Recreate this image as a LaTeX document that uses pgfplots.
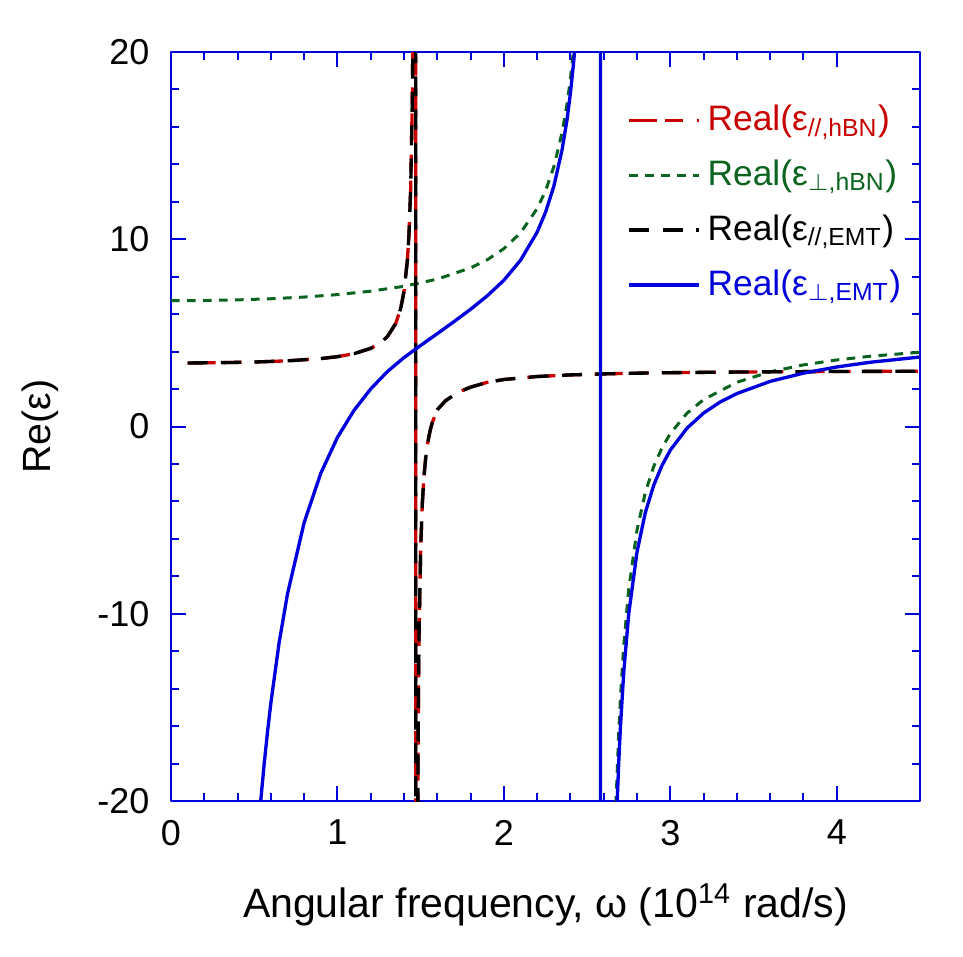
\documentclass[border=0pt]{standalone}
\usepackage{pgfplots}
\pgfplotsset{compat=1.18}
\usepackage{fontspec}
\setmainfont{Liberation Sans}
\definecolor{hbnred}{RGB}{200,0,0}
\definecolor{hbngreen}{RGB}{10,100,30}
\definecolor{emtblue}{RGB}{0,0,220}
\begin{document}%
\fontsize{10.5}{12.6}\selectfont%
\begin{tikzpicture}
\useasboundingbox (-51.3pt,-46.5pt) rectangle (237.6pt,240.3pt);
\begin{axis}[
  scale only axis, width=224.7pt, height=224.7pt,
  at={(0,0)}, anchor=south west,
  xmin=0, xmax=4.5, ymin=-20, ymax=20,
  xtick={0,1,2,3,4}, ytick={-20,-10,0,10,20},
  minor x tick num=4, minor y tick num=4,
  tick align=inside, xtick pos=both, ytick pos=both,
  xticklabel pos=bottom, yticklabel pos=left,
  major tick length=4.5pt, minor tick length=2.5pt,
  axis line style={draw=emtblue, line width=0.7pt},
  tick style={draw=emtblue, line width=0.6pt},
  /pgf/number format/assume math mode=true,
  tick label style={font=\fontsize{10.8}{13}\selectfont},
  xticklabel style={yshift=-2pt},
  yticklabel style={xshift=-2.8pt},
  xlabel={Angular frequency, ω (10\textsuperscript{14} rad/s)},
  ylabel={Re(ε)},
  xlabel style={at={(axis description cs:0.5,-0.139)}, anchor=center, font=\fontsize{12.3}{14}\selectfont},
  ylabel style={at={(axis description cs:-0.175,0.5)}, anchor=center, font=\fontsize{11.8}{14}\selectfont},
  unbounded coords=jump,
  legend cell align=left,
  legend style={draw=none, fill=none, at={(axis description cs:0.998,0.948)}, anchor=north east, row sep=3.2pt, font=\fontsize{10.6}{12.7}\selectfont},
  legend image code/.code={\draw[#1] (0pt,0pt) -- (21pt,0pt);},
  line join=round,
]
\addplot[color=hbnred, line width=1pt, dash pattern=on 8.4pt off 2.4pt on 5.4pt off 4pt] coordinates {
(0.1,3.393)(0.3,3.409)(0.5,3.443)(0.7,3.507)(0.9,3.626)(1.0,3.729)(1.1,3.890)(1.2,4.174)(1.25,4.414)(1.3,4.797)(1.35,5.501)(1.38,6.299)(1.4,7.213)(1.42,8.857)(1.43,10.296)(1.44,12.694)(1.45,17.491)(1.455,22.278)(1.47,40)(1.47,-40)(1.48,-25.69)(1.485,-16.10)(1.49,-11.296)(1.5,-6.498)(1.51,-4.100)(1.52,-2.661)(1.53,-1.702)(1.54,-1.017)(1.55,-0.503)(1.56,-0.103)(1.57,0.216)(1.6,0.90)(1.65,1.38)(1.7,1.68)(1.75,1.92)(1.8,2.10)(1.9,2.36)(2.0,2.51)(2.2,2.67)(2.4,2.755)(2.6,2.810)(2.8,2.848)(3.0,2.874)(3.3,2.901)(3.6,2.920)(4.0,2.938)(4.5,2.953)
};
\addlegendentry{\textcolor{hbnred}{Real(ε\textsubscript{//,hBN})}}
\addplot[color=hbngreen, line width=0.9pt, dash pattern=on 2.6pt off 2.2pt] coordinates {
(0,6.717)(0.2,6.728)(0.4,6.762)(0.6,6.823)(0.8,6.913)(1.0,7.044)(1.2,7.227)(1.4,7.488)(1.6,7.871)(1.8,8.469)(1.9,8.906)(2.0,9.498)(2.1,10.343)(2.2,11.639)(2.25,12.583)(2.3,13.868)(2.35,15.713)(2.38,17.263)(2.4,18.585)(2.42,20.238)(2.43,21.23)(2.58,nan)(2.66,-24.46)(2.675,-19.758)(2.69,-16.338)(2.7,-14.534)(2.72,-11.699)(2.75,-8.698)(2.8,-5.517)(2.85,-3.516)(2.9,-2.141)(2.95,-1.139)(3.0,-0.376)(3.1,0.708)(3.2,1.439)(3.4,2.363)(3.6,2.920)(3.8,3.291)(4.0,3.554)(4.2,3.751)(4.5,3.966)
};
\addlegendentry{\textcolor{hbngreen}{Real(ε\textsubscript{$\perp$,hBN})}}
\addplot[color=black, line width=1pt, dash pattern=on 6pt off 4pt] coordinates {
(0.1,3.393)(0.3,3.409)(0.5,3.443)(0.7,3.507)(0.9,3.626)(1.0,3.729)(1.1,3.890)(1.2,4.174)(1.25,4.414)(1.3,4.797)(1.35,5.501)(1.38,6.299)(1.4,7.213)(1.42,8.857)(1.43,10.296)(1.44,12.694)(1.45,17.491)(1.455,22.278)(1.47,40)(1.47,-40)(1.48,-25.69)(1.485,-16.10)(1.49,-11.296)(1.5,-6.498)(1.51,-4.100)(1.52,-2.661)(1.53,-1.702)(1.54,-1.017)(1.55,-0.503)(1.56,-0.103)(1.57,0.216)(1.6,0.90)(1.65,1.38)(1.7,1.68)(1.75,1.92)(1.8,2.10)(1.9,2.36)(2.0,2.51)(2.2,2.67)(2.4,2.755)(2.6,2.810)(2.8,2.848)(3.0,2.874)(3.3,2.901)(3.6,2.920)(4.0,2.938)(4.5,2.953)
};
\addlegendentry{Real(ε\textsubscript{//,EMT})}
\addplot[color=emtblue, line width=1pt, solid] coordinates {
(0.52,-22.02)(0.54,-19.90)(0.56,-18.0)(0.58,-16.30)(0.6,-14.765)(0.65,-11.519)(0.7,-8.937)(0.8,-5.132)(0.9,-2.495)(1.0,-0.581)(1.1,0.867)(1.2,2.007)(1.3,2.935)(1.4,3.68)(1.5,4.33)(1.6,4.96)(1.7,5.60)(1.8,6.26)(1.9,6.98)(2.0,7.81)(2.1,8.88)(2.2,10.38)(2.25,11.435)(2.3,12.828)(2.35,14.794)(2.38,16.429)(2.4,17.817)(2.42,19.545)(2.43,20.58)(2.44,21.76)(2.58,40)(2.58,-40)(2.67,-22.93)(2.68,-20.19)(2.69,-17.95)(2.7,-16.08)(2.72,-13.13)(2.75,-10.01)(2.8,-6.69)(2.85,-4.59)(2.9,-3.14)(2.95,-2.08)(3.0,-1.26)(3.1,-0.09)(3.2,0.72)(3.3,1.31)(3.4,1.76)(3.6,2.41)(3.8,2.85)(4.0,3.18)(4.2,3.43)(4.5,3.71)
};
\addlegendentry{\textcolor{emtblue}{Real(ε\textsubscript{$\perp$,EMT})}}
\end{axis}
\end{tikzpicture}%
\end{document}
